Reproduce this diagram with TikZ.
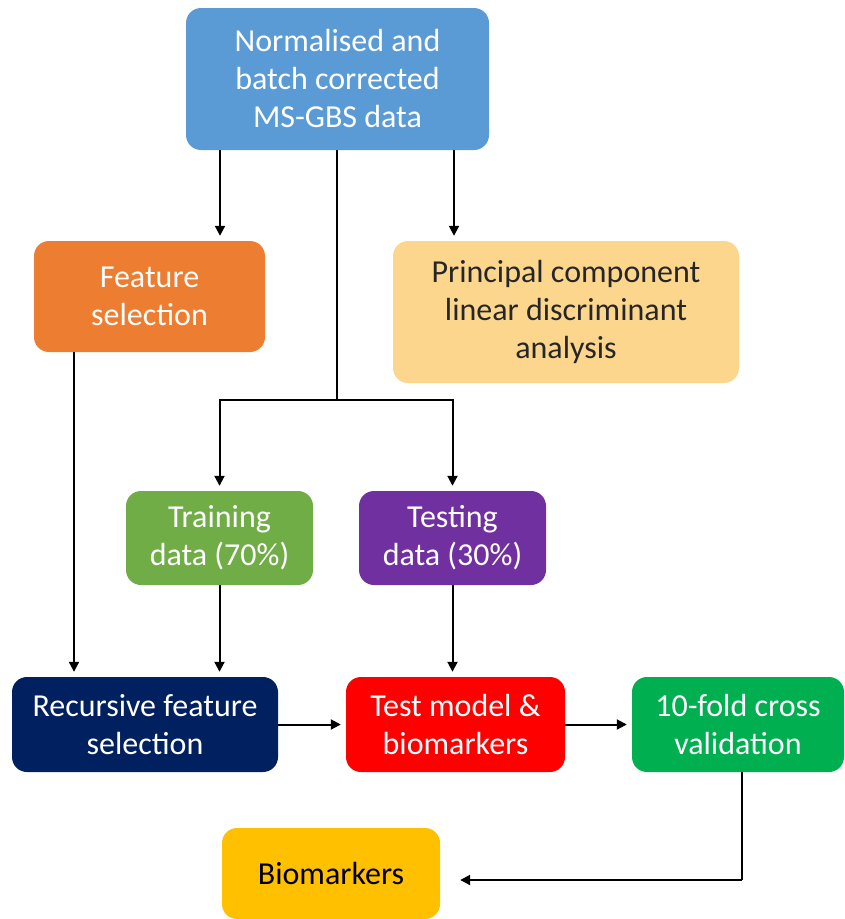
\documentclass[tikz,border=0pt]{standalone}
\usepackage{fontspec}
\setmainfont{Carlito}
\usetikzlibrary{arrows.meta,calc}
\definecolor{cblue}{HTML}{5B9BD5}
\definecolor{corange}{HTML}{ED7D31}
\definecolor{cpca}{HTML}{FDD68E}
\definecolor{cgreen}{HTML}{70AD47}
\definecolor{cpurple}{HTML}{7030A0}
\definecolor{cnavy}{HTML}{002060}
\definecolor{cred}{HTML}{FF0000}
\definecolor{cgreenb}{HTML}{00B050}
\definecolor{cyellow}{HTML}{FFC000}
\begin{document}
\begin{tikzpicture}[x=1pt,y=-1pt,
  box/.style={rounded corners=15pt,inner sep=0pt,align=center,text=white,
    font=\fontsize{32}{38}\selectfont},
  arr/.style={line width=2pt,-{Triangle[length=10pt,width=10pt]},shorten >=5pt},
  ln/.style={line width=2pt}]
\useasboundingbox (0,0) rectangle (844,919);
\node[box,fill=cblue,minimum width=303pt,minimum height=142pt] (top) at (337.5,79) {Normalised and\\batch corrected\\MS-GBS data};
\node[box,fill=corange,minimum width=231pt,minimum height=111pt] (feat) at (149.5,296.5) {Feature\\selection};
\node[box,fill=cpca,text=black!85,minimum width=346pt,minimum height=142pt] (pca) at (566,312) {Principal component\\linear discriminant\\analysis};
\node[box,fill=cgreen,minimum width=187pt,minimum height=94pt] (train) at (219.5,538) {Training\\data (70\%)};
\node[box,fill=cpurple,minimum width=187pt,minimum height=94pt] (test) at (452.5,538) {Testing\\data (30\%)};
\node[box,fill=cnavy,minimum width=266pt,minimum height=95pt] (rfe) at (145,724.5) {Recursive feature\\selection};
\node[box,fill=cred,minimum width=219pt,minimum height=95pt] (model) at (455.5,724.5) {Test model \&\\biomarkers};
\node[box,fill=cgreenb,minimum width=212pt,minimum height=95pt] (cv) at (738,724.5) {10-fold cross\\validation};
\node[box,fill=cyellow,text=black,minimum width=218pt,minimum height=91pt] (bio) at (331,873.5) {Biomarkers};
\coordinate (fx) at (220,0);
\coordinate (px) at (454,0);
\coordinate (split) at (337,400);
\coordinate (fsx) at (74,0);
\coordinate (turn) at (742,880);
\draw[arr] (top.south -| fx) -- (feat.north -| fx);
\draw[arr] (top.south -| px) -- (pca.north -| px);
\draw[ln] (top.south -| split) -- (split);
\draw[arr] (split) -| (train.north);
\draw[arr] (split) -| (test.north);
\draw[arr] (feat.south -| fsx) -- (rfe.north -| fsx);
\draw[arr] (train) -- (train |- rfe.north);
\draw[arr] (test.south) -- (test |- model.north);
\draw[arr] (rfe.east) -- (model.west);
\draw[arr] (model.east) -- (cv.west);
\draw[ln] (cv.south -| turn) -- (turn);
\draw[arr,shorten >=20pt] (turn) -- (bio.east |- turn);
\end{tikzpicture}
\end{document}
